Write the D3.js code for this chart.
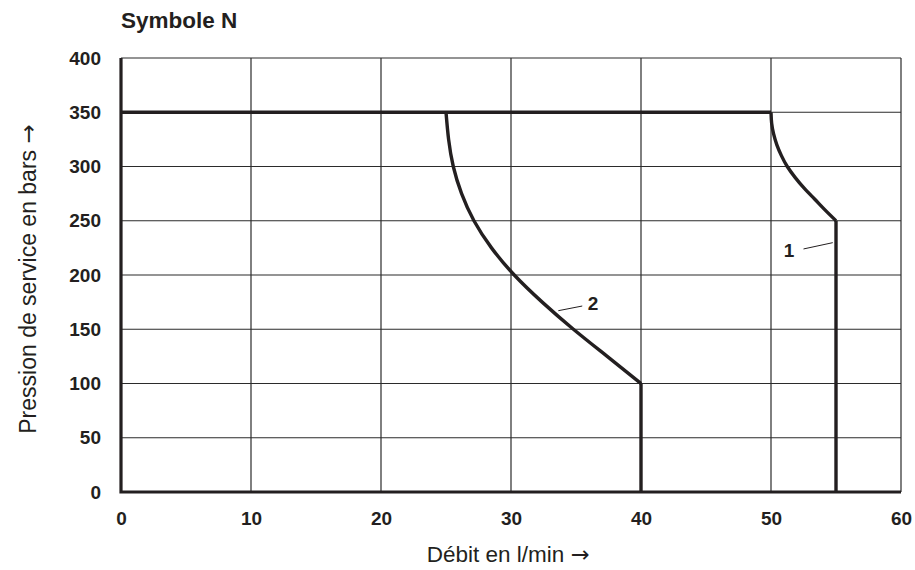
<!DOCTYPE html>
<html>
<head>
<meta charset="utf-8">
<script src="https://cdn.jsdelivr.net/npm/d3@7"></script>
<style>
  html, body { margin: 0; padding: 0; background: #fff; }
  svg { display: block; }
  text { font-family: "Liberation Sans", Arial, Helvetica, sans-serif; fill: #231f20; }
  .arrow { font-family: "DejaVu Sans", sans-serif; }
</style>
</head>
<body>
<svg id="chart" width="915" height="570"></svg>
<script>
// Flow (l/min) vs. operating pressure (bar)
const xTicks = [0, 10, 20, 30, 40, 50, 60];
const yTicks = [0, 50, 100, 150, 200, 250, 300, 350, 400];

// Pressure limit line at 350 bar
const limitFlow = [0, 50];
const limitPressure = [350, 350];

// Curve 1: bends from 50 l/min at 350 bar down to 55 l/min at 250 bar, then drops
const curve1Flow = [50, 50.05, 50.2, 50.45, 50.8, 51.25, 51.85, 52.55, 53.35, 54.15, 55];
const curve1Pressure = [350, 340, 330, 320, 310, 300, 290, 280, 270, 260, 250];
const drop1Flow = [55, 55];
const drop1Pressure = [250, 0];

// Curve 2: bends from 25 l/min at 350 bar down to 40 l/min at 100 bar, then drops
const curve2Flow = [25, 25.2, 25.56, 26.2, 27.15, 28.5, 30.25, 32.4, 34.8, 37.4, 40];
const curve2Pressure = [350, 325, 300, 275, 250, 225, 200, 175, 150, 125, 100];
const drop2Flow = [40, 40];
const drop2Pressure = [100, 0];

const svg = d3.select("#chart");
const x = d3.scaleLinear().domain([0, 60]).range([121, 901]);
const y = d3.scaleLinear().domain([0, 400]).range([492, 58]);

const pts = (xs, ys) => xs.map((v, i) => [v, ys[i]]);
const lineLin = d3.line().x(d => x(d[0])).y(d => y(d[1]));
const lineSmooth = d3.line().x(d => x(d[0])).y(d => y(d[1])).curve(d3.curveNatural);

// Grid
const grid = svg.append("g").attr("stroke", "#2b2b2b").attr("stroke-width", 1.2);
grid.selectAll("line.v").data(xTicks.filter(t => t > 0)).join("line")
  .attr("x1", d => x(d)).attr("x2", d => x(d))
  .attr("y1", y(0)).attr("y2", y(400));
grid.selectAll("line.h").data(yTicks.filter(t => t > 0)).join("line")
  .attr("x1", x(0)).attr("x2", x(60))
  .attr("y1", d => y(d)).attr("y2", d => y(d));

// Axes frame (left and bottom heavy)
svg.append("path")
  .attr("d", `M${x(0)},${y(400)}V${y(0)}H${x(60)}`)
  .attr("fill", "none").attr("stroke", "#231f20").attr("stroke-width", 3.2);

// Tick labels through D3 axes
const xAxis = svg.append("g").attr("transform", `translate(0,${y(0)})`)
  .call(d3.axisBottom(x).tickValues(xTicks).tickSize(0).tickPadding(20));
const yAxis = svg.append("g").attr("transform", `translate(${x(0)},0)`)
  .call(d3.axisLeft(y).tickValues(yTicks).tickSize(0).tickPadding(20));
[xAxis, yAxis].forEach(a => {
  a.select(".domain").remove();
  a.selectAll("text").attr("fill", "#231f20")
    .style("font-family", "'Liberation Sans', Arial, sans-serif")
    .style("font-size", "19px").style("font-weight", "bold");
});

// Characteristic curves
const curves = svg.append("g").attr("fill", "none").attr("stroke", "#231f20")
  .attr("stroke-width", 3.4).attr("stroke-linejoin", "miter");
curves.append("path").attr("d", lineLin(pts(limitFlow, limitPressure)));
curves.append("path").attr("d", lineSmooth(pts(curve1Flow, curve1Pressure)));
curves.append("path").attr("d", lineLin(pts(drop1Flow, drop1Pressure)));
curves.append("path").attr("d", lineSmooth(pts(curve2Flow, curve2Pressure)));
curves.append("path").attr("d", lineLin(pts(drop2Flow, drop2Pressure)));

// Curve labels with leader lines
const labels = [
  { text: "1", at: [51.8, 216.5], anchor: "end", leader: [[52.5, 224], [54.75, 229.8]] },
  { text: "2", at: [35.9, 168], anchor: "start", leader: [[33.64, 167.1], [35.48, 171.4]] }
];
labels.forEach(l => {
  svg.append("path").attr("d", lineLin(l.leader))
    .attr("stroke", "#231f20").attr("stroke-width", 1).attr("fill", "none");
  svg.append("text").attr("x", x(l.at[0])).attr("y", y(l.at[1]))
    .attr("text-anchor", l.anchor)
    .style("font-size", "19px").style("font-weight", "bold").text(l.text);
});

// Titles
svg.append("text").attr("x", 121).attr("y", 28)
  .style("font-size", "22.5px").style("font-weight", "bold").text("Symbole N");

const xTitle = svg.append("text").attr("x", 508).attr("y", 562).attr("text-anchor", "middle")
  .style("font-size", "22.5px");
xTitle.append("tspan").text("Débit en l/min ");
xTitle.append("tspan").attr("class", "arrow").text("→");

const yTitle = svg.append("text").attr("transform", "translate(36,279) rotate(-90)")
  .attr("text-anchor", "middle").style("font-size", "23px");
yTitle.append("tspan").text("Pression de service en bars ");
yTitle.append("tspan").attr("class", "arrow").text("→");
</script>
</body>
</html>
